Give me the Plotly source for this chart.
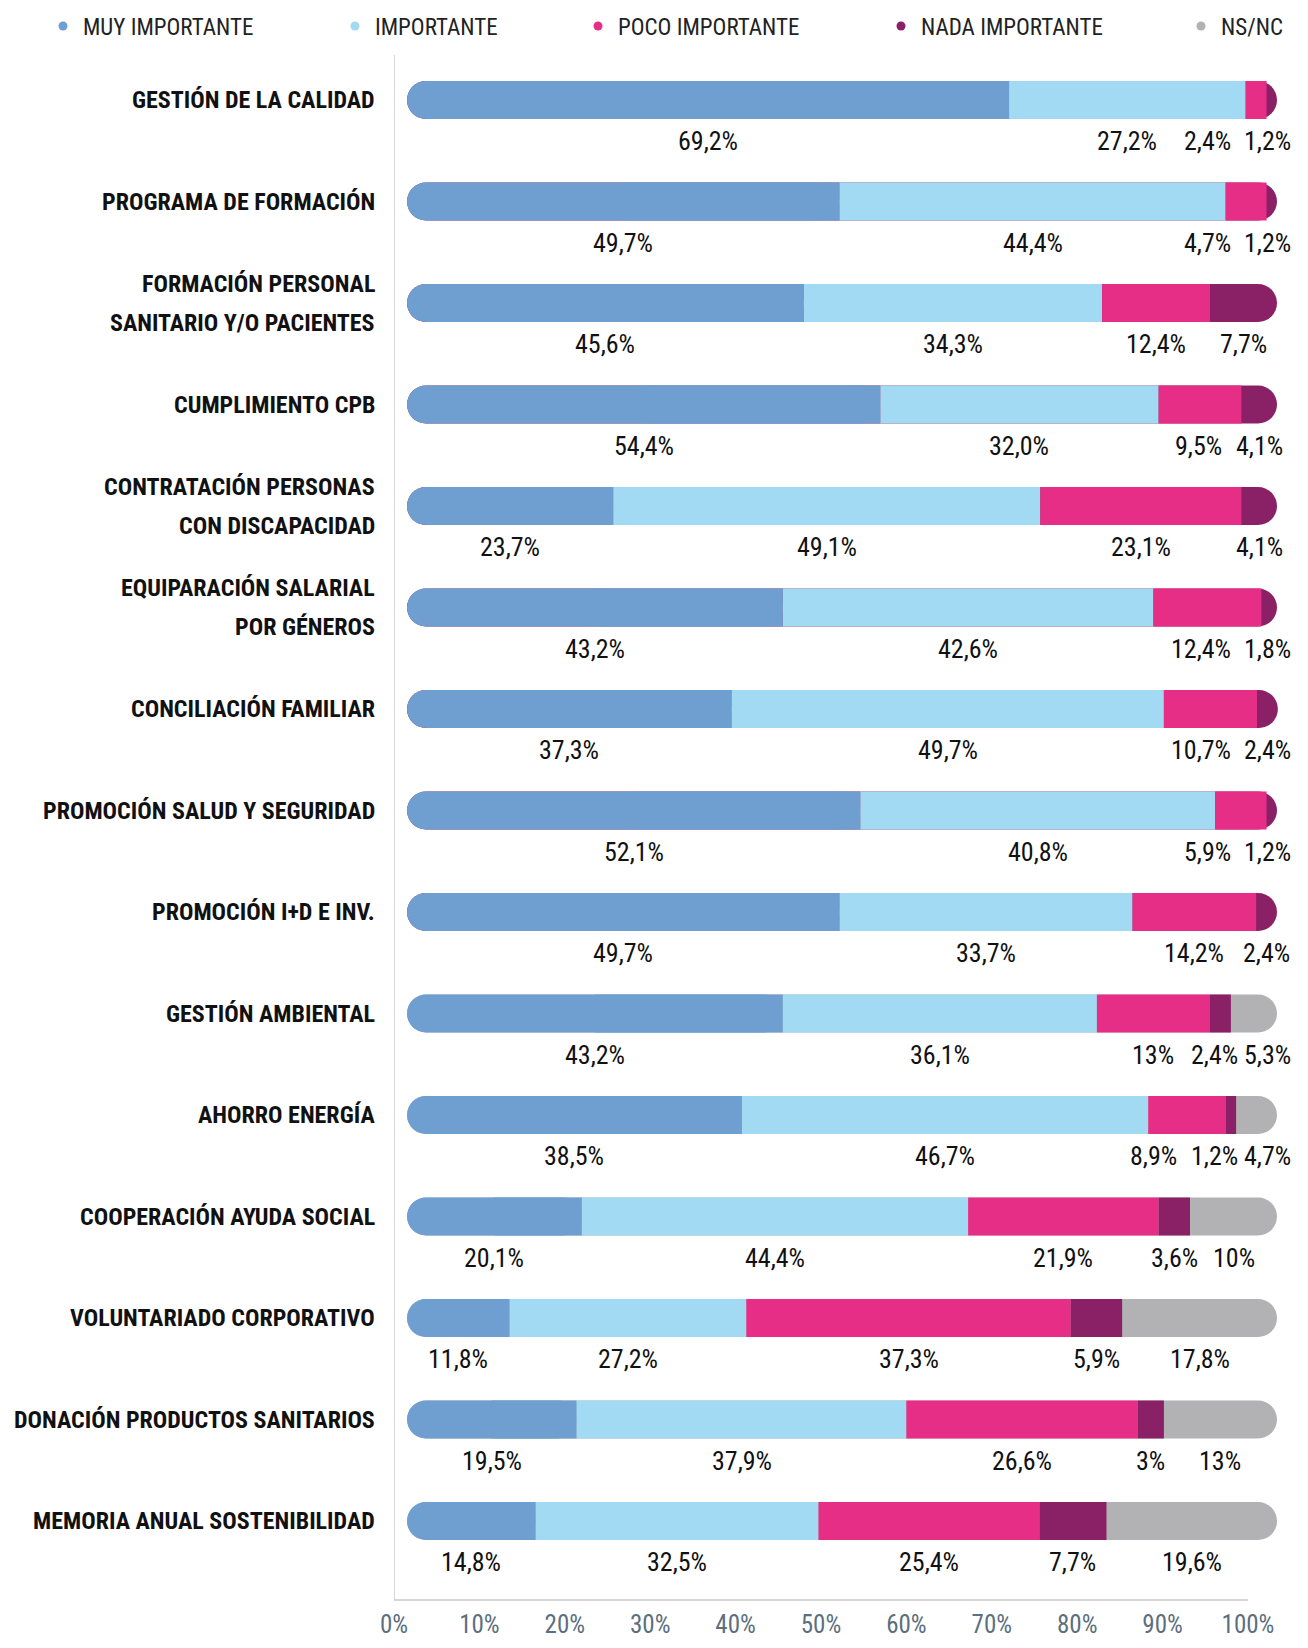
import plotly.graph_objects as go

# ---------------- data ----------------
categories = [
    "GESTIÓN DE LA CALIDAD",
    "PROGRAMA DE FORMACIÓN",
    "FORMACIÓN PERSONAL<br>SANITARIO Y/O PACIENTES",
    "CUMPLIMIENTO CPB",
    "CONTRATACIÓN PERSONAS<br>CON DISCAPACIDAD",
    "EQUIPARACIÓN SALARIAL<br>POR GÉNEROS",
    "CONCILIACIÓN FAMILIAR",
    "PROMOCIÓN SALUD Y SEGURIDAD",
    "PROMOCIÓN I+D E INV.",
    "GESTIÓN AMBIENTAL",
    "AHORRO ENERGÍA",
    "COOPERACIÓN AYUDA SOCIAL",
    "VOLUNTARIADO CORPORATIVO",
    "DONACIÓN PRODUCTOS SANITARIOS",
    "MEMORIA ANUAL SOSTENIBILIDAD",
]
series_names = ["MUY IMPORTANTE", "IMPORTANTE", "POCO IMPORTANTE", "NADA IMPORTANTE", "NS/NC"]
muy = [69.2, 49.7, 45.6, 54.4, 23.7, 43.2, 37.3, 52.1, 49.7, 43.2, 38.5, 20.1, 11.8, 19.5, 14.8]
imp = [27.2, 44.4, 34.3, 32.0, 49.1, 42.6, 49.7, 40.8, 33.7, 36.1, 46.7, 44.4, 27.2, 37.9, 32.5]
poco = [2.4, 4.7, 12.4, 9.5, 23.1, 12.4, 10.7, 5.9, 14.2, 13, 8.9, 21.9, 37.3, 26.6, 25.4]
nada = [1.2, 1.2, 7.7, 4.1, 4.1, 1.8, 2.4, 1.2, 2.4, 2.4, 1.2, 3.6, 5.9, 3, 7.7]
nsnc = [0, 0, 0, 0, 0, 0, 0, 0, 0, 5.3, 4.7, 10, 17.8, 13, 19.6]
tick_values = [0, 10, 20, 30, 40, 50, 60, 70, 80, 90, 100]
tick_labels = ["0%", "10%", "20%", "30%", "40%", "50%", "60%", "70%", "80%", "90%", "100%"]

# ---------------- style ----------------
colors = ["#6E9FD0", "#A3DAF3", "#E72E87", "#8A2166", "#B2B2B4"]
FONT = "Liberation Sans Narrow, Arial Narrow, Roboto Condensed, sans-serif"
PAGE = 8                   # default page margin of the html body
W, H = 1308 - PAGE, 1648 - 2 * PAGE
L, R, T = 394 - PAGE, 4, 55 - PAGE
B = H - (1600 - PAGE)      # x axis line at page y = 1600
plot_w = W - L - R
plot_h = H - T - B
axis_px_100 = 854          # pixel length of 0..100 % on the tick axis
bar_px_start = 13          # bar start offset from the axis line
px_per_unit = 8.70         # pixels per percent for the bars
bar_thickness_px = 38
radius = bar_thickness_px / 2
row_px = 101.5
first_row_px = 100 - PAGE
label_font = 26
label_gap_left_px = 12
label_gap_right_px = 5
label_right_margin_px = 12
legend_dot_px = [66, 358, 601, 904, 1204]

n = len(categories)
ypos = list(range(n))
bar_w = bar_thickness_px / row_px
x2_range = [-bar_px_start / px_per_unit, -bar_px_start / px_per_unit + plot_w / px_per_unit]

fig = go.Figure()

def cum(*arrs):
    return [sum(v) for v in zip(*arrs)]

start_imp = muy
start_poco = cum(muy, imp)
start_nada = cum(muy, imp, poco)
total = cum(muy, imp, poco, nada, nsnc)

common = dict(orientation="h", width=bar_w, xaxis="x2", yaxis="y",
              showlegend=False, hoverinfo="skip")

# 1) whole-row pill in the colour of the last segment (gives the rounded right end)
last_color = [colors[4] if s > 0 else colors[3] for s in nsnc]
fig.add_trace(go.Bar(y=ypos, x=total, base=[0] * n,
                     marker=dict(color=last_color, line=dict(width=0), cornerradius=radius), **common))
# 2) MUY IMPORTANTE pill (rounded left end) + square half to square off its right end
fig.add_trace(go.Bar(y=ypos, x=muy, base=[0] * n,
                     marker=dict(color=colors[0], line=dict(width=0), cornerradius=radius), **common))
fig.add_trace(go.Bar(y=ypos, x=[v / 2 for v in muy], base=[v / 2 for v in muy],
                     marker=dict(color=colors[0], line=dict(width=0)), **common))
# 3) middle segments
fig.add_trace(go.Bar(y=ypos, x=imp, base=start_imp,
                     marker=dict(color=colors[1], line=dict(width=0)), **common))
fig.add_trace(go.Bar(y=ypos, x=poco, base=start_poco,
                     marker=dict(color=colors[2], line=dict(width=0)), **common))
fig.add_trace(go.Bar(y=ypos, x=[v if s > 0 else None for v, s in zip(nada, nsnc)], base=start_nada,
                     marker=dict(color=colors[3], line=dict(width=0)), **common))

# legend entries (small dots), one positioned legend per entry
legend_layouts = {}
for k, (name, c) in enumerate(zip(series_names, colors)):
    lname = "legend" if k == 0 else f"legend{k + 1}"
    fig.add_trace(go.Scatter(x=[None], y=[None], mode="markers", name=name, legend=lname,
                             marker=dict(size=9, color=c), xaxis="x", yaxis="y", hoverinfo="skip"))
    legend_layouts[lname] = dict(
        orientation="h", xref="container", yref="container",
        x=(legend_dot_px[k] - PAGE - 23) / W, y=1 - (26 - PAGE) / H,
        xanchor="left", yanchor="middle",
        font=dict(family=FONT, size=23, color="#222222"), bgcolor="rgba(0,0,0,0)",
    )

# ---------------- value labels ----------------
def fmt(v):
    return str(v).replace(".", ",") + "%"

def text_w(s):
    w = 0
    for ch in s:
        if ch.isdigit():
            w += 0.456
        elif ch == ",":
            w += 0.228
        elif ch == "%":
            w += 0.729
        else:
            w += 0.4
    return w * label_font

right_limit = x2_range[1] - label_right_margin_px / px_per_unit
annotations = []
rows = list(zip(muy, imp, poco, nada, nsnc))
for i, vals in enumerate(rows):
    starts = [0]
    for v in vals[:-1]:
        starts.append(starts[-1] + v)
    centers = [s + v / 2 for s, v in zip(starts, vals)]
    texts = [fmt(v) for v in vals]
    widths = [text_w(t) / px_per_unit for t in texts]
    pos = centers[:]
    gl = label_gap_left_px / px_per_unit
    gr = label_gap_right_px / px_per_unit
    pos[4] = max(pos[4], pos[3] + (widths[3] + widths[4]) / 2 + gr)
    last = 4 if vals[4] > 0 else 3
    pos[last] = min(pos[last], right_limit - widths[last] / 2)
    if last == 4:
        pos[3] = min(pos[3], pos[4] - (widths[3] + widths[4]) / 2 - gr)
    for k in range(2, -1, -1):
        pos[k] = min(pos[k], pos[k + 1] - (widths[k] + widths[k + 1]) / 2 - gl)
    for k, v in enumerate(vals):
        if v <= 0:
            continue
        annotations.append(dict(x=pos[k], y=i, xref="x2", yref="y", text=texts[k],
                                showarrow=False, yshift=-41, xanchor="center", yanchor="middle",
                                font=dict(family=FONT, size=label_font, color="#111111")))

# category labels
for i, cat in enumerate(categories):
    lines = cat.split("<br>")
    m = len(lines)
    for j, line in enumerate(lines):
        annotations.append(dict(x=-17 / plot_w, y=i, xref="paper", yref="y",
                                text="<b>" + line + "</b>", showarrow=False,
                                xanchor="right", yanchor="middle",
                                yshift=((m - 1) / 2 - j) * 39,
                                font=dict(family=FONT, size=24, color="#111111")))

y_top = -(first_row_px - T) / row_px
y_bot = y_top + plot_h / row_px

layout = dict(
    width=W, height=H,
    margin=dict(l=L, r=R, t=T, b=B, autoexpand=False),
    paper_bgcolor="white", plot_bgcolor="white",
    barmode="overlay",
    font=dict(family=FONT),
    xaxis=dict(range=[0, 100 * plot_w / axis_px_100], tickvals=tick_values, ticktext=tick_labels,
               showgrid=False, zeroline=False, showline=False, ticks="",
               tickfont=dict(family=FONT, size=25, color="#5B6F7E"),
               ticklabelstandoff=7, fixedrange=True),
    xaxis2=dict(overlaying="x", visible=False, range=x2_range),
    yaxis=dict(range=[y_bot, y_top], visible=False, showgrid=False, zeroline=False),
    annotations=annotations,
    shapes=[
        dict(type="line", xref="x", yref="paper", x0=0, x1=0, y0=0, y1=1,
             line=dict(color="#C8C8C8", width=1.5)),
        dict(type="line", xref="x", yref="paper", x0=0, x1=100, y0=0, y1=0,
             line=dict(color="#C8C8C8", width=1.5)),
    ],
)
layout.update(legend_layouts)
fig.update_layout(**layout)

fig.write_html("out.html")
